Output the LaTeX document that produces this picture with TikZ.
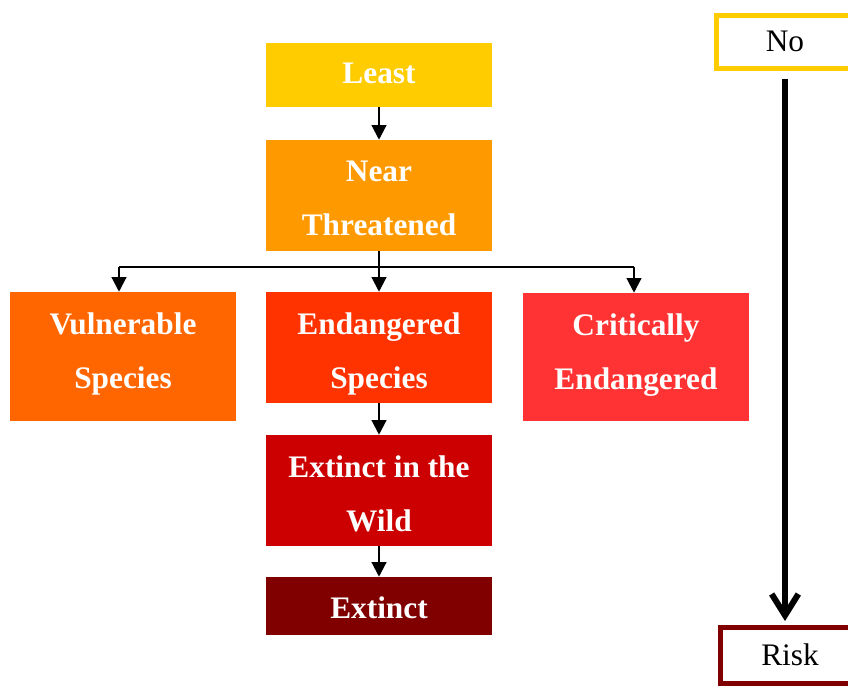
\documentclass[tikz,border=0pt]{standalone}
\usepackage{fontspec}
\setmainfont{Liberation Serif}
\usetikzlibrary{arrows.meta,calc}
\definecolor{cLeast}{HTML}{FFCC00}
\definecolor{cNear}{HTML}{FF9900}
\definecolor{cVul}{HTML}{FF6600}
\definecolor{cEnd}{HTML}{FF3300}
\definecolor{cCrit}{HTML}{FF3333}
\definecolor{cWild}{HTML}{CC0000}
\definecolor{cExt}{HTML}{800000}
\begin{document}
\begin{tikzpicture}[x=0.75pt,y=-0.75pt,
  box/.style={rectangle,inner sep=0pt,minimum width=169.5pt,draw=none},
  txt/.style={anchor=north,inner sep=0pt,text=white,align=center,
    font=\bfseries\fontsize{23.5}{40.5}\selectfont},
  arr/.style={line width=1.6pt,-{Triangle[width=11pt,length=11pt]}},
  sbox/.style={rectangle,inner sep=0pt,line width=3.75pt,font=\fontsize{23.5}{28}\selectfont}]
\useasboundingbox (0,0) rectangle (848,687);
% boxes
\node[box,fill=cLeast,minimum height=48pt] (least) at (379,75) {};
\node[box,fill=cNear,minimum height=83.25pt] (near) at (379,195.5) {};
\node[box,fill=cVul,minimum height=96.75pt] (vul) at (123,356.5) {};
\node[box,fill=cEnd,minimum height=83.25pt] (end) at (379,347.5) {};
\node[box,fill=cCrit,minimum height=96pt] (crit) at (636,357) {};
\node[box,fill=cWild,minimum height=83.25pt] (wild) at (379,490.5) {};
\node[box,fill=cExt,minimum height=43.5pt] (ext) at (379,606) {};
% texts
\node[txt] (leastT) at ($(least.north)+(0,19.5)$) {Least};
\node[txt] (nearT) at ($(near.north)+(0,20.5)$) {Near\\Threatened};
\node[txt] (vulT) at ($(vul.north)+(0,20.5)$) {Vulnerable\\Species};
\node[txt] (endT) at ($(end.north)+(0,20.5)$) {Endangered\\Species};
\node[txt] (critT) at ($(crit.north)+(0,20.5)$) {Critically\\Endangered};
\node[txt] (wildT) at ($(wild.north)+(0,20.5)$) {Extinct in the\\Wild};
\node[txt] (extT) at ($(ext.north)+(0,19.5)$) {Extinct};
% arrows
\draw[arr] (least.south) -- (near.north);
\coordinate (split) at (379,267);
\coordinate (splitL) at (119,267);
\coordinate (splitR) at (634,267);
\draw[line width=1.6pt] (near.south) -- (split);
\draw[line width=1.6pt] (splitL) -- (splitR);
\draw[arr] (split) -- (end.north);
\draw[arr] (splitL) -- (splitL |- vul.north);
\draw[arr] (splitR) -- (splitR |- crit.north);
\draw[arr] (end.south) -- (wild.north);
\draw[arr] (wild.south) -- (ext.north);
% scale
\node[sbox,draw=cLeast,minimum width=103.5pt,minimum height=39.75pt] (no) at (785,41.5) {No};
\node[sbox,draw=cExt,minimum width=104.25pt,minimum height=41.6pt] (risk) at (790,655.25) {Risk};
\draw[line width=4.5pt,shorten <=6pt,shorten >=3pt,-{Straight Barb[width=20pt,length=16pt,line width=4.5pt]}]
  (no.south) -- (no.south |- risk.north);
\end{tikzpicture}
\end{document}
